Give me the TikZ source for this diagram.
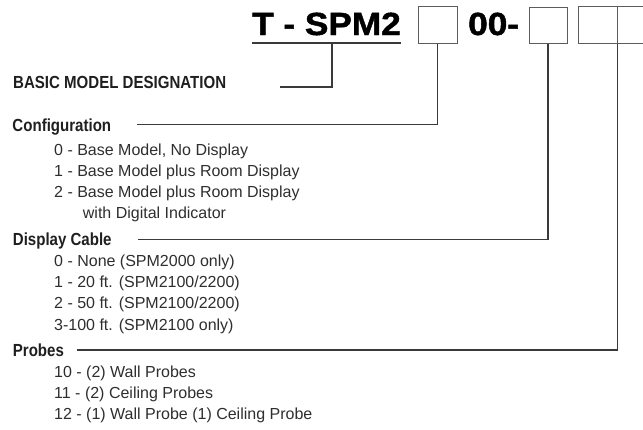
\documentclass[tikz,border=0pt]{standalone}
\usepackage{fontspec}
\setmainfont{Liberation Sans}
\newfontfamily\headfont{Liberation Sans}[FakeStretch=0.86]
\newfontfamily\titlefont{Liberation Sans}[FakeStretch=1.1, FakeBold=1.5]
\usepackage{xcolor}
\usepackage{tikz}
\usetikzlibrary{positioning, calc}

\definecolor{linegray}{HTML}{3A3A3A}
\definecolor{boxgray}{HTML}{5C5C5C}
\definecolor{textgray}{HTML}{2E2E2E}

\begin{document}
\begin{tikzpicture}[
    x=1pt, y=-1pt,
    conn/.style={draw=linegray, line width=1.3pt},
    digitbox/.style={
        rectangle,
        draw=boxgray,
        line width=1pt,
        minimum width=39pt,
        minimum height=37pt,
        inner sep=0pt
    },
    heading/.style={
        font=\headfont\bfseries\fontsize{17.5}{20}\selectfont,
        text=black!88,
        anchor=base west,
        inner sep=0pt
    },
    item/.style={
        font=\fontsize{16}{19}\selectfont,
        text=textgray,
        anchor=base west,
        inner sep=0pt
    },
    title/.style={
        font=\titlefont\bfseries\fontsize{32}{36}\selectfont,
        inner sep=0pt
    }
]

\useasboundingbox (0,0) rectangle (643,429);

% === MODEL NUMBER ===
\node (title) [title, anchor=base east] at (401,35) {T - SPM2};
\node (zeros) [title, anchor=base west] at (468,35) {00-};
\node (cfgbox) [digitbox] at (437.5,24.5) {};
\node (cablebox) [digitbox, minimum width=38pt, minimum height=36pt] at (548,25) {};
\node (probebox) [digitbox] at (597.5,24.5) {};
\node (probebox2) [digitbox] at (636.5,24.5) {};

\draw [conn] ([yshift=-8pt]title.base west) -- ([yshift=-8pt]title.base east);

% === BASIC MODEL ===
\node (basic) [heading] at (13,88) {BASIC MODEL DESIGNATION};
\coordinate (ulstem) at (332,43);
\coordinate (basicend) at (280,87);
\draw [conn] (ulstem) |- (basicend);

% === CONFIGURATION ===
\node (config) [heading] at (12.3,131.7) {Configuration};
\node (cfg0) [item] at (54,155) {0 - Base Model, No Display};
\node (cfg1) [item] at (54,176.2) {1 - Base Model plus Room Display};
\node (cfg2) [item] at (54,197.4) {2 - Base Model plus Room Display};
\node (cfg2b) [item] at (82.7,218.6) {with Digital Indicator};
\coordinate (cfgend) at (137,124.3);
\draw [conn] (cfgbox.south) |- (cfgend);

% === DISPLAY CABLE ===
\node (cable) [heading] at (12.7,245) {Display Cable};
\node (cable0) [item] at (54,266) {0 - None (SPM2000 only)};
\node (cable1) [item] at (54,287.3) {1 - 20 ft. (SPM2100/2200)};
\node (cable2) [item] at (54,308.9) {2 - 50 ft. (SPM2100/2200)};
\node (cable3) [item] at (54,330.5) {3-100 ft. (SPM2100 only)};
\coordinate (cableend) at (138,239.3);
\draw [conn] (cablebox.south) |- (cableend);

% === PROBES ===
\node (probes) [heading] at (12.7,356.7) {Probes};
\node (probe10) [item] at (54,377) {10 - (2) Wall Probes};
\node (probe11) [item] at (54,398.3) {11 - (2) Ceiling Probes};
\node (probe12) [item] at (54,419.6) {12 - (1) Wall Probe (1) Ceiling Probe};
\coordinate (probesend) at (76.7,350);
\draw [conn] (probebox.south east) |- (probesend);

\end{tikzpicture}
\end{document}
